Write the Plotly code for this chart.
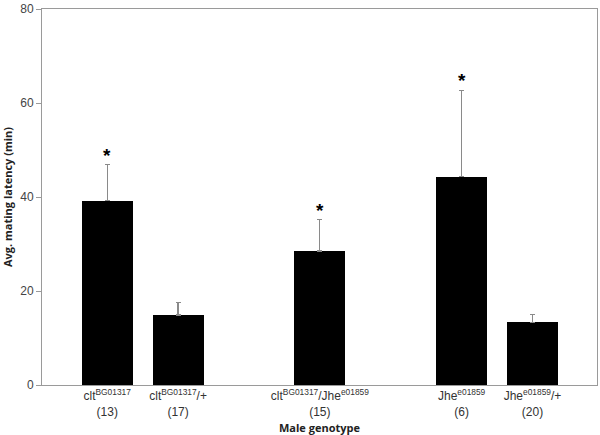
import plotly.graph_objects as go

genotypes = ["clt<sup>BG01317</sup><br>(13)", "clt<sup>BG01317</sup>/+<br>(17)",
             "clt<sup>BG01317</sup>/Jhe<sup>e01859</sup><br>(15)",
             "Jhe<sup>e01859</sup><br>(6)", "Jhe<sup>e01859</sup>/+<br>(20)"]
group = [0, 0, 1, 2, 2]
latency = [39.2, 14.9, 28.5, 44.3, 13.3]
sem = [7.7, 2.6, 6.7, 18.4, 1.7]
significant = [True, False, True, True, False]

pos = [i + g for i, g in enumerate(group)]

fig = go.Figure()
fig.add_trace(go.Bar(
    x=pos, y=latency, width=0.72,
    marker=dict(color="black", line=dict(width=0)),
    error_y=dict(type="data", symmetric=False, array=sem, arrayminus=[0]*len(sem),
                 color="#8a8a8a", thickness=1.2, width=2.5),
))

for p, v, e, s in zip(pos, latency, sem, significant):
    if s:
        fig.add_annotation(x=p, y=v + e, text="<b>*</b>", showarrow=False,
                           yanchor="bottom", yshift=-3,
                           font=dict(family="Liberation Sans", size=19, color="black"))

fig.update_layout(
    width=600, height=435,
    margin=dict(l=42, r=2, t=9, b=47),
    paper_bgcolor="white", plot_bgcolor="white",
    showlegend=False,
    font=dict(family="Liberation Sans", size=12, color="#333333"),
    bargap=0,
)
fig.update_xaxes(
    range=[-0.92, 6.91], tickmode="array", tickvals=pos, ticktext=genotypes,
    showline=True, linecolor="#9a9a9a", linewidth=1, mirror=True,
    ticks="", showgrid=False, zeroline=False,
    tickfont=dict(family="Liberation Sans", size=12, color="#333333"),
    title=dict(text="<b>Male genotype</b>", standoff=6,
               font=dict(family="Open Sans", size=11, color="#222222")),
)
fig.update_yaxes(
    range=[0, 80], tickmode="array", tickvals=[0, 20, 40, 60, 80],
    showline=True, linecolor="#9a9a9a", linewidth=1, mirror=True,
    ticks="outside", ticklen=5, tickcolor="#9a9a9a",
    showgrid=False, zeroline=False,
    tickfont=dict(family="Liberation Sans", size=12, color="#444444"),
    title=dict(text="<b>Avg. mating latency (min)</b>", standoff=7,
               font=dict(family="Open Sans", size=11, color="#222222")),
)

fig.write_html("out.html", config={"displayModeBar": False},
               post_script="document.body.style.margin='0';document.body.style.padding='0';")
